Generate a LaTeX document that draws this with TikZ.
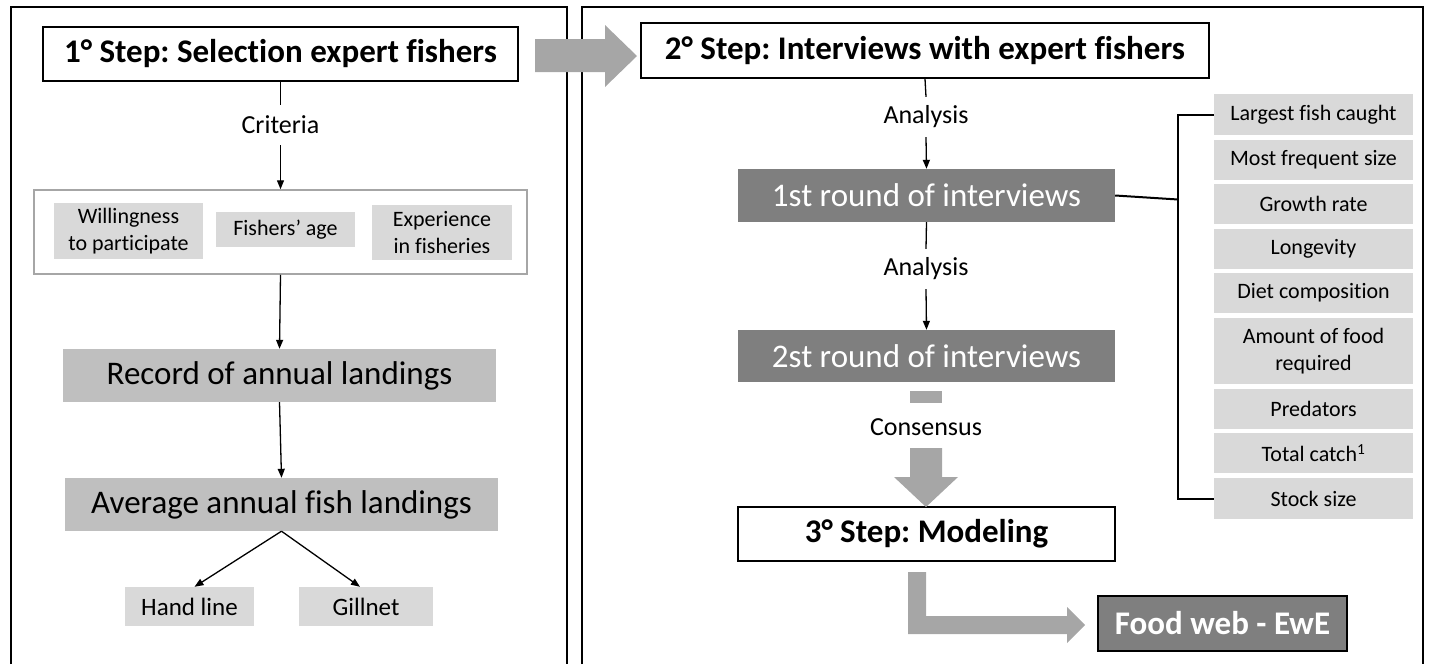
\documentclass[tikz,border=0pt]{standalone}
\usepackage{fontspec}
\setmainfont{Carlito}[Ligatures=NoCommon]
\frenchspacing
\usetikzlibrary{arrows.meta}
\definecolor{darkbox}{HTML}{7F7F7F}
\definecolor{midbox}{HTML}{BFBFBF}
\definecolor{lightbox}{HTML}{D9D9D9}
\definecolor{arrowgray}{HTML}{A6A6A6}
\definecolor{framegray}{HTML}{A6A6A6}
\tikzset{
 stepbox/.style={draw=black, line width=1.5pt, fill=white, inner sep=0pt, font=\fontsize{33}{40}\selectfont\bfseries},
 bigbox/.style={fill=midbox, inner sep=0pt, font=\fontsize{33}{40}\selectfont},
 darkround/.style={fill=darkbox, text=white, inner sep=0pt, font=\fontsize{33}{40}\selectfont},
 smallbox/.style={fill=lightbox, inner sep=0pt, align=center, font=\fontsize{22}{27}\selectfont},
 listbox/.style={fill=lightbox, inner sep=0pt, align=center, minimum width=199pt, font=\fontsize{22}{27}\selectfont},
 lbl/.style={inner sep=0pt, minimum height=40pt, font=\fontsize{26}{31}\selectfont},
 conn/.style={line width=1.3pt, -{Triangle[length=9pt,width=7pt]}},
 plainline/.style={line width=1.3pt},
 blockarrow/.style={fill=arrowgray, draw=none},
 panel/.style={line width=1.8pt},
}
\begin{document}
\begin{tikzpicture}[x=1pt,y=-1pt]
\useasboundingbox (0,0) rectangle (1432,664);
% panels
\draw[panel] (11,664) -- (11,7) -- (567,7) -- (567,664);
\draw[panel] (582,664) -- (582,7) -- (1423,7) -- (1423,664);

% ---------- left panel ----------
\node[stepbox, minimum width=475pt, minimum height=54pt] (s1) at (280.5,54) {1° Step: Selection expert fishers};
\node[lbl] (crit) at (280.5,125) {Criteria};
\node[draw=framegray, line width=1.5pt, fill=white, minimum width=493pt, minimum height=84pt, inner sep=0pt] (critbox) at (280.5,232) {};
\node[smallbox, minimum width=149pt, minimum height=56pt] (will) at (128.5,231) {Willingness\\to participate};
\node[smallbox, minimum width=139pt, minimum height=35pt] (age) at (285.5,229.5) {Fishers’ age};
\node[smallbox, minimum width=140pt, minimum height=55pt] (exp) at (442,232.5) {Experience\\in fisheries};
\node[bigbox, minimum width=433pt, minimum height=53pt] (rec) at (279.5,375.5) {Record of annual landings};
\node[bigbox, minimum width=433pt, minimum height=53pt] (avg) at (281.5,504.5) {Average annual fish landings};
\node[smallbox, minimum width=129pt, minimum height=39pt, font=\fontsize{25}{30}\selectfont] (hand) at (189.5,606.5) {Hand line};
\node[smallbox, minimum width=134pt, minimum height=39pt, font=\fontsize{25}{30}\selectfont] (gill) at (366,606.5) {Gillnet};

\draw[plainline] (s1.south) -- (crit.north);
\draw[conn] (crit.south) -- (critbox.north);
\draw[conn] (critbox.south) -- (rec.north);
\draw[conn] (rec.south) -- (avg.north);
\draw[conn] (avg.south) -- ([xshift=5pt]hand.north);
\draw[conn] (avg.south) -- ([xshift=-6pt]gill.north);

% big arrow between panels
\path[blockarrow] (535,39) -- (605,39) -- (605,25) -- (637,56) -- (605,87) -- (605,72) -- (535,72) -- cycle;

% ---------- right panel ----------
\node[stepbox, minimum width=568pt, minimum height=55pt] (s2) at (925,50.5) {2° Step: Interviews with expert fishers};
\node[lbl] (ana1) at (926,117) {Analysis};
\node[darkround, minimum width=377pt, minimum height=53pt] (r1) at (926.5,195.5) {1st round of interviews};
\node[lbl] (ana2) at (926,269) {Analysis};
\node[darkround, minimum width=377pt, minimum height=52pt] (r2) at (926.5,356) {2st round of interviews};
\node[fill=arrowgray, inner sep=0pt, minimum width=32pt, minimum height=12pt] (stub) at (926,397) {};
\node[lbl] (cons) at (926,427) {Consensus};
\node[stepbox, minimum width=377pt, minimum height=54pt] (s3) at (926.5,534) {3° Step: Modeling};
\node[darkround, draw=black, line width=1.5pt, minimum width=249pt, minimum height=55pt, font=\fontsize{33}{40}\selectfont\bfseries] (fw) at (1222.5,623.5) {Food web - EwE};

\draw[plainline] (s2.south) -- (ana1.north);
\draw[conn] (ana1.south) -- (r1.north);
\draw[plainline] (r1.south) -- (ana2.north);
\draw[conn] (ana2.south) -- (r2.north);

% down block arrow
\path[blockarrow] (910,448) -- (942,448) -- (942,477) -- (958,477) -- (926,507) -- (894,477) -- (910,477) -- cycle;
% L block arrow
\path[blockarrow] (908,572) -- (926,572) -- (926,616) -- (1067,616) -- (1067,607) -- (1085,625) -- (1067,643) -- (1067,634) -- (908,634) -- cycle;

% list
\node[listbox, minimum height=41pt] (l1) at (1313.5,114.5) {Largest fish caught};
\node[listbox, minimum height=40pt] (l2) at (1313.5,160) {Most frequent size};
\node[listbox, minimum height=40pt] (l3) at (1313.5,204) {Growth rate};
\node[listbox, minimum height=40pt] (l4) at (1313.5,249) {Longevity};
\node[listbox, minimum height=40pt] (l5) at (1313.5,293) {Diet composition};
\node[listbox, minimum height=66pt] (l6) at (1313.5,351) {Amount of food\\required};
\node[listbox, minimum height=40pt] (l7) at (1313.5,409) {Predators};
\node[listbox, minimum height=40pt] (l8) at (1313.5,453) {Total catch\textsuperscript{1}};
\node[listbox, minimum height=41pt] (l9) at (1313.5,498.5) {Stock size};

\coordinate (bx) at (1178,0);
\draw[line width=2pt] (l1.west) -- (l1.west -| bx) -- (l9.west -| bx) -- (l9.west);
\draw[line width=2pt] (r1.east) -- ([yshift=-4pt]r1.east -| bx);
\end{tikzpicture}
\end{document}
